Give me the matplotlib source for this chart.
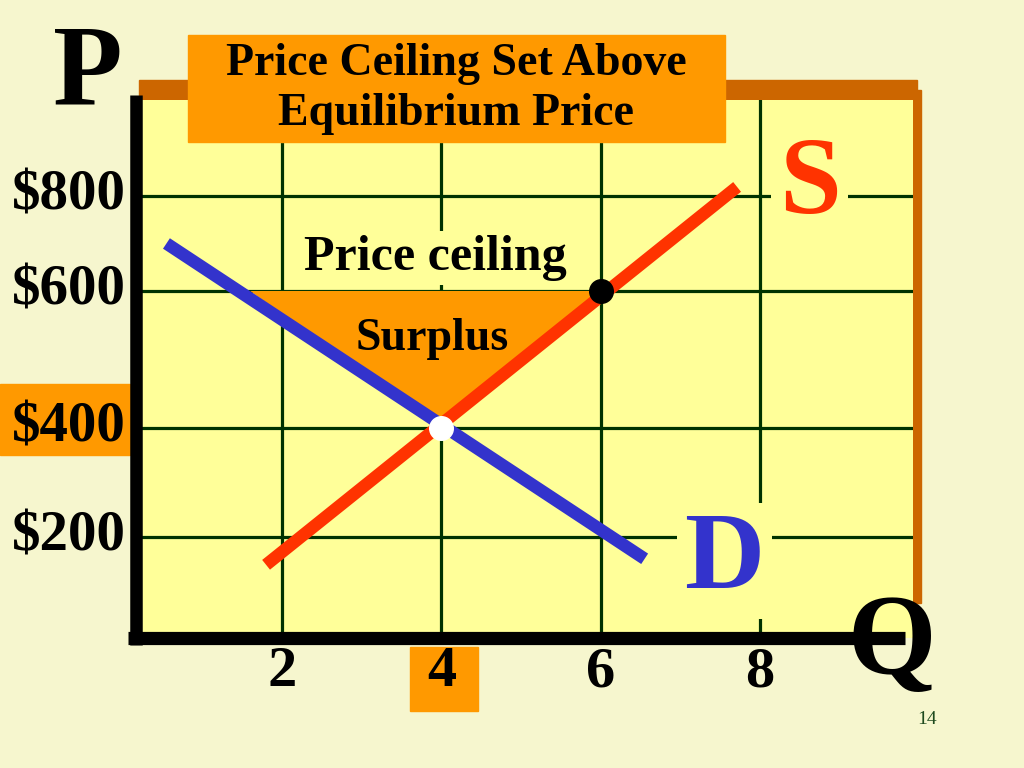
import numpy as np
import matplotlib
matplotlib.use('Agg')
import matplotlib.pyplot as plt
from matplotlib.patches import Rectangle
from matplotlib.lines import Line2D
import matplotlib.transforms as mtransforms

# data
q_ticks = [2, 4, 6, 8]
q_labels = ['2', '4', '6', '8']
price_ticks = [200, 400, 600, 800]
price_labels = ['$200', '$400', '$600', '$800']

demand_q = [0.55, 6.55]
demand_p = [700, 160]
supply_q = [1.8, 7.71]
supply_p = [149, 819]

eq_q, eq_p = 4, 400            # equilibrium
ceiling_p = 600                # price ceiling
ceiling_qs = 6                 # quantity supplied at ceiling
ceiling_qd = 1.6               # quantity demanded at ceiling

# colours
bg = '#F6F6CE'
plot_bg = '#FFFF99'
orange = '#FF9900'
brown = '#CC6600'
grid_c = '#003300'
red = '#FF3300'
blue = '#3333CC'

serif = 'Liberation Serif'

W, H = 1024, 768
def fx(x):
    return x / W
def fy(y):
    return 1 - y / H

fig = plt.figure(figsize=(10.24, 7.68), dpi=100, facecolor=bg)

# axes box (pixels): left 136, right 913, top 100, bottom 638
ax = fig.add_axes([fx(136), fy(638), (913 - 136) / W, (638 - 100) / H])
ax.set_facecolor(plot_bg)
for s in ax.spines.values():
    s.set_visible(False)

# price axis in the original slide is not evenly spaced -> piecewise scale
p_knots = np.array([-200, 0, 200, 400, 600, 800, 1000, 1200])
s_knots = -np.array([755, 646, 537, 428, 291, 196, 101, 6], dtype=float)
def fwd(p):
    return np.interp(p, p_knots, s_knots)
def inv(s):
    return np.interp(s, s_knots, p_knots)
ax.set_yscale('function', functions=(fwd, inv))
ax.set_xlim(0.168, 9.917)
ax.set_ylim(14.7, 1002)
ax.set_xticks([])
ax.set_yticks([])
ax.minorticks_off()

# grid
for q in q_ticks:
    ax.axvline(q, color=grid_c, lw=2.3, zorder=1)
for p in price_ticks:
    ax.axhline(p, color=grid_c, lw=2.3, zorder=1)

# surplus triangle
ax.fill([ceiling_qd, ceiling_qs, eq_q], [ceiling_p, ceiling_p, eq_p],
        color=orange, lw=0, zorder=1.5)

# curves
ax.plot(demand_q, demand_p, color=blue, lw=9, solid_capstyle='butt', zorder=3)
ax.plot(supply_q, supply_p, color=red, lw=9, solid_capstyle='butt', zorder=3)

# points
ax.plot([eq_q], [eq_p], 'o', ms=17, mfc='white', mec='white', zorder=4)
ax.plot([ceiling_qs], [ceiling_p], 'o', ms=17, mfc='black', mec='black', zorder=4)

# labels inside the plot (yellow box hides the grid behind)
ybox = dict(facecolor=plot_bg, edgecolor='none', pad=6)
ax.text(3.92, 644, 'Price ceiling', fontsize=36, fontweight='bold', family=serif,
        ha='center', va='baseline', bbox=dict(facecolor=plot_bg, edgecolor='none', pad=3), zorder=2)
ax.text(3.88, 514, 'Surplus', fontsize=33, fontweight='bold', family=serif,
        ha='center', va='baseline', zorder=2.5)
ax.text(8.62, 764, 'S', fontsize=80, fontweight='bold', family=serif, color=red,
        ha='center', va='baseline', bbox=ybox, zorder=2)
ax.text(7.55, 106, 'D', fontsize=80, fontweight='bold', family=serif, color=blue,
        ha='center', va='baseline', bbox=ybox, zorder=2)

# tick labels
tx = mtransforms.blended_transform_factory(ax.transData, ax.transAxes)
for q, lab in zip(q_ticks, q_labels):
    ax.text(q, -0.064, lab, transform=tx, fontsize=42, fontweight='bold', family=serif,
            ha='center', va='center', clip_on=False)
ty = mtransforms.blended_transform_factory(ax.transAxes, ax.transData)
for p, lab in zip(price_ticks, price_labels):
    ax.text(-0.013, p, lab, transform=ty, fontsize=41, fontweight='bold', family=serif,
            ha='right', va='center', clip_on=False)

# highlight boxes behind $400 and 4
fig.add_artist(Rectangle((fx(0), fy(455)), fx(130), (455 - 384) / H,
                         transform=fig.transFigure, color=orange, zorder=-1))
fig.add_artist(Rectangle((fx(410), fy(711)), fx(68), (711 - 647) / H,
                         transform=fig.transFigure, color=orange, zorder=-1))

# frame bars (shadow) top and right
fig.add_artist(Rectangle((fx(139), fy(102)), fx(917 - 139), 22 / H,
                         transform=fig.transFigure, color=brown, zorder=-1))
fig.add_artist(Rectangle((fx(913), fy(603)), fx(8), (603 - 90) / H,
                         transform=fig.transFigure, color=brown, zorder=-1))

# title box
fig.add_artist(Rectangle((fx(188), fy(142)), fx(725 - 188), (142 - 35) / H,
                         transform=fig.transFigure, color=orange, zorder=2))
fig.text(fx(456), fy(89), 'Price Ceiling Set Above\nEquilibrium Price', fontsize=33,
         fontweight='bold', family=serif, ha='center', va='center', linespacing=1.25, zorder=3)

# black axes
fig.add_artist(Line2D([fx(136), fx(136)], [fy(95), fy(645)], color='black', lw=9,
                      solid_capstyle='butt', zorder=5))
fig.add_artist(Line2D([fx(128), fx(905)], [fy(638), fy(638)], color='black', lw=9.5,
                      solid_capstyle='butt', zorder=5))

# axis letters
fig.text(fx(88), fy(103), 'P', fontsize=82, fontweight='bold', family=serif,
         ha='center', va='baseline', zorder=6)
fig.text(fx(892), fy(673), 'Q', fontsize=82, fontweight='bold', family=serif,
         ha='center', va='baseline', zorder=6)

# slide number
fig.text(fx(927), fy(724), '14', fontsize=14, family=serif, color='#1E4A1E',
         ha='center', va='baseline')

fig.savefig('out.png', dpi=100, facecolor=bg)
